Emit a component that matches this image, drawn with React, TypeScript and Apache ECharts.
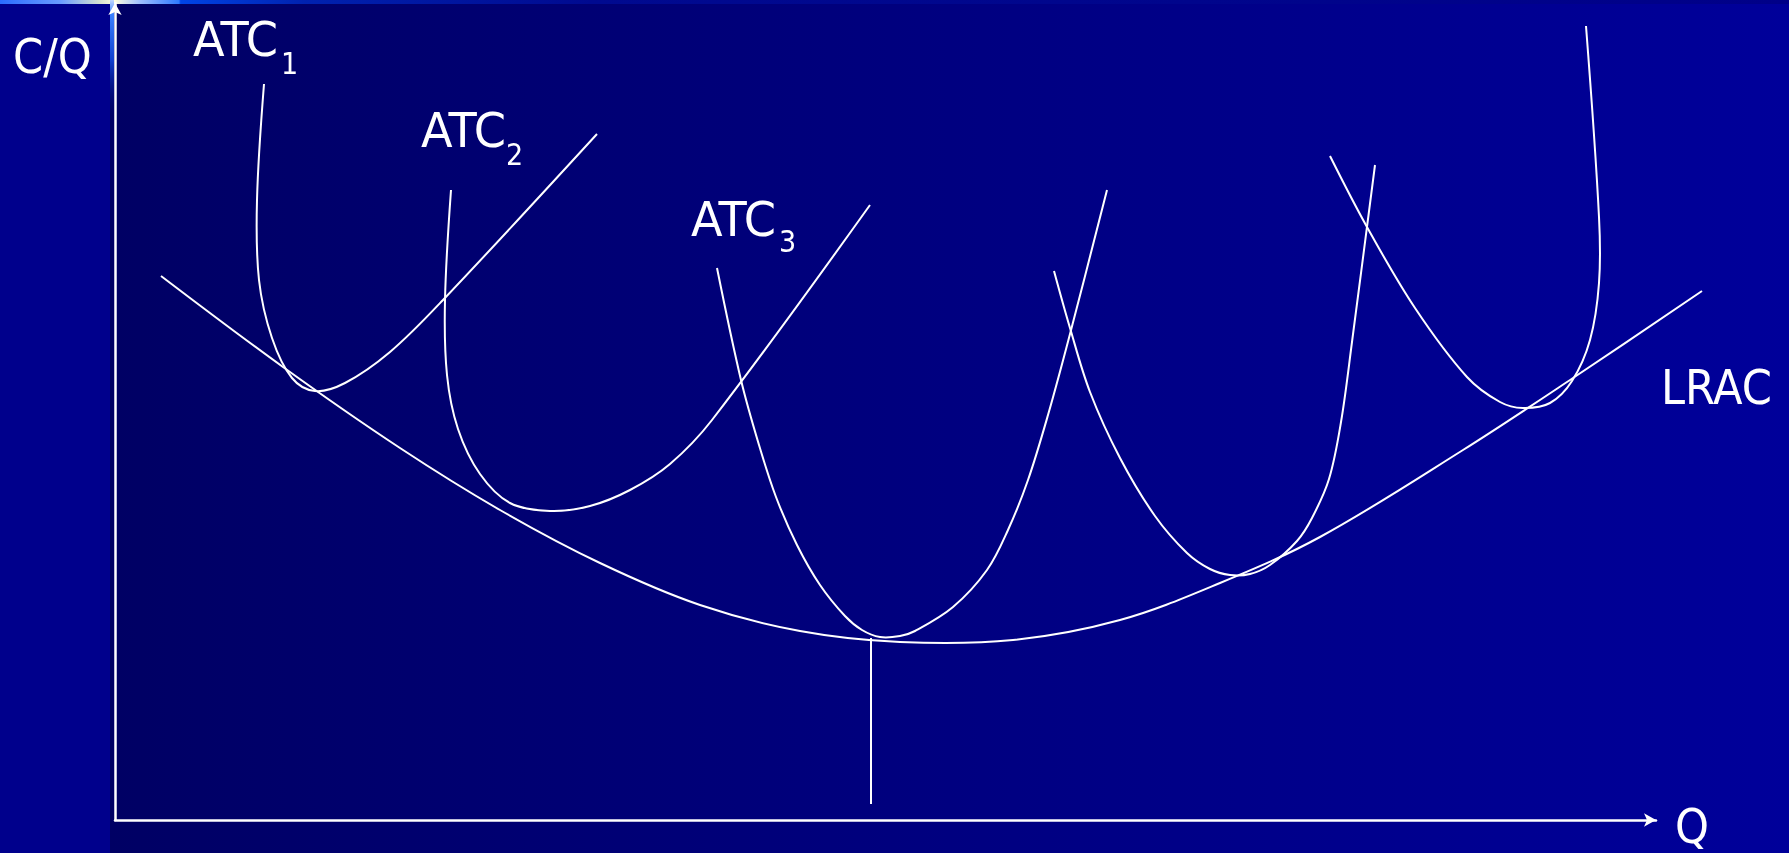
import React, { useEffect, useRef } from "react";
import * as echarts from "echarts";

// Units: Q along x (0 .. 154.1), C/Q along y (0 .. 81.7)
const lrac = [
  [4.6, 54.4], [16.8, 45.3], [28.5, 37.2], [38.5, 31.0], [48.5, 25.7], [58.5, 21.5],
  [68.5, 18.9], [78.5, 17.8], [89.8, 18.0], [100.5, 20.0], [110.5, 23.7], [120.5, 28.3],
  [134.8, 37.0], [145.8, 44.2], [158.7, 52.9],
];
const atc1 = [
  [14.9, 73.6], [14.2, 62.0], [14.4, 54.0], [15.7, 48.2], [17.7, 44.2], [20.0, 42.9],
  [23.0, 43.7], [27.5, 46.8], [32.8, 52.0], [48.2, 68.6],
];
const atc2 = [
  [33.6, 63.0], [33.0, 52.0], [33.2, 44.5], [34.3, 39.1], [36.5, 34.6], [39.5, 31.7],
  [43.5, 30.9], [47.5, 31.4], [51.5, 33.0], [55.5, 35.6], [59.7, 40.0], [75.5, 61.5],
];
const atc3 = [
  [60.2, 55.2], [62.6, 44.0], [64.4, 37.5], [66.1, 32.3], [68.2, 27.5], [70.5, 23.5],
  [73.0, 20.4], [74.7, 19.0], [76.5, 18.3], [78.5, 18.4], [80.0, 18.9], [83.8, 21.3],
  [87.2, 25.0], [89.3, 29.0], [91.3, 34.0], [93.3, 40.5], [95.5, 48.6], [99.2, 63.0],
];
const atc4 = [
  [93.9, 54.9], [95.5, 49.2], [97.5, 42.8], [100.5, 36.2], [104.0, 30.4], [107.2, 26.7],
  [109.5, 25.1], [111.5, 24.5], [113.5, 24.6], [115.5, 25.5], [118.2, 27.9], [119.7, 30.2],
  [121.4, 34.1], [122.6, 39.8], [123.7, 47.8], [126.0, 65.5],
];
const atc5 = [
  [121.5, 66.4], [125.2, 59.3], [130.0, 51.2], [135.2, 44.3], [138.5, 41.8], [140.8, 41.2],
  [143.5, 41.7], [145.7, 43.9], [147.5, 48.0], [148.4, 53.7], [148.4, 60.3], [147.1, 79.4],
];
const dropLine = [[75.6, 18.2], [75.6, 1.6]];

const mainLabels = ["C/Q", "ATC", "ATC", "ATC", "LRAC", "Q"];
const subLabels = ["1", "2", "3"];

const FONT = '"DejaVu Sans Condensed", "DejaVu Sans", sans-serif';

export default function App() {
  const ref = useRef<HTMLDivElement>(null);
  useEffect(() => {
    document.body.style.margin = "0";
    const chart = echarts.init(ref.current!, null, { renderer: "svg" });
    const curve = (name: string, pts: number[][]) => ({
      name,
      type: "custom",
      data: pts,
      encode: { x: 0, y: 1 },
      clip: false,
      silent: true,
      z: 5,
      renderItem: (params: any, api: any) => {
        if (params.dataIndex !== 0) return null;
        const points = pts.map((p) => api.coord(p));
        return {
          type: "polyline",
          shape: { points, smooth: 0.35 },
          style: { stroke: "#ffffff", lineWidth: 2, fill: "none" },
        };
      },
    });
    const txt = (text: string, x: number, y: number, size: number, sx = 1) => ({
      type: "text",
      x,
      y,
      scaleX: sx,
      z: 20,
      style: {
        text,
        fill: "#ffffff",
        fontSize: size,
        fontFamily: FONT,
        textAlign: "left",
        verticalAlign: "middle",
      },
    });
    chart.setOption({
      animation: false,
      graphic: [
        { type: "rect", z: -10, shape: { x: 0, y: 0, width: 1789, height: 853 }, style: { fill: "#00008c" } },
        {
          type: "rect", z: -9,
          shape: { x: 110, y: 0, width: 1679, height: 853 },
          style: {
            fill: new echarts.graphic.LinearGradient(0, 0, 1, 0, [
              { offset: 0, color: "#000064" },
              { offset: 0.5, color: "#000080" },
              { offset: 1, color: "#00009a" },
            ]),
          },
        },
        {
          type: "rect", z: -8,
          shape: { x: 0, y: 0, width: 1789, height: 4 },
          style: {
            fill: new echarts.graphic.LinearGradient(0, 0, 1, 0, [
              { offset: 0, color: "#2a6cff" },
              { offset: 0.034, color: "#6a9cff" },
              { offset: 0.056, color: "#d8e4d0" },
              { offset: 0.064, color: "#ffffe0" },
              { offset: 0.078, color: "#a0c0ff" },
              { offset: 0.1, color: "#2f7aff" },
              { offset: 0.101, color: "#0044e6" },
              { offset: 0.17, color: "#0022b0" },
              { offset: 0.33, color: "#000a90" },
              { offset: 1, color: "#000088" },
            ]),
          },
        },
        {
          type: "rect", z: -7,
          shape: { x: 110, y: 0, width: 4, height: 120 },
          style: {
            fill: new echarts.graphic.LinearGradient(0, 0, 0, 1, [
              { offset: 0, color: "#c0d8ff" },
              { offset: 0.12, color: "#3a80ff" },
              { offset: 0.5, color: "#1040d0" },
              { offset: 1, color: "rgba(0,0,110,0)" },
            ]),
          },
        },
        txt(mainLabels[0], 13, 56, 48),
        txt(mainLabels[1], 193, 40, 48, 1.07),
        txt(subLabels[0], 281, 63, 30),
        txt(mainLabels[2], 421, 131, 48, 1.07),
        txt(subLabels[1], 506, 154, 30),
        txt(mainLabels[3], 691, 220, 48, 1.07),
        txt(subLabels[2], 779, 241, 30),
        txt(mainLabels[4], 1661, 387, 48),
        txt(mainLabels[5], 1675, 826, 48),
      ],
      grid: { left: 115, top: 3, width: 1541, height: 817, containLabel: false },
      xAxis: {
        type: "value", min: 0, max: 154.1,
        axisLine: { show: true, symbol: ["none", "arrow"], symbolSize: [10, 12], lineStyle: { color: "#ffffff", width: 2.5 } },
        axisTick: { show: false }, axisLabel: { show: false }, splitLine: { show: false },
      },
      yAxis: {
        type: "value", min: 0, max: 81.7,
        axisLine: { show: true, symbol: ["none", "arrow"], symbolSize: [10, 12], lineStyle: { color: "#ffffff", width: 2.5 } },
        axisTick: { show: false }, axisLabel: { show: false }, splitLine: { show: false },
      },
      series: [
        curve("LRAC", lrac),
        curve("ATC1", atc1),
        curve("ATC2", atc2),
        curve("ATC3", atc3),
        curve("ATC4", atc4),
        curve("ATC5", atc5),
        {
          name: "drop", type: "line", data: dropLine, symbol: "none", silent: true, z: 5,
          lineStyle: { color: "#ffffff", width: 2 },
        },
      ],
    });
    return () => chart.dispose();
  }, []);
  return <div ref={ref} style={{ position: "fixed", left: 0, top: 0, width: 1789, height: 853 }} />;
}
